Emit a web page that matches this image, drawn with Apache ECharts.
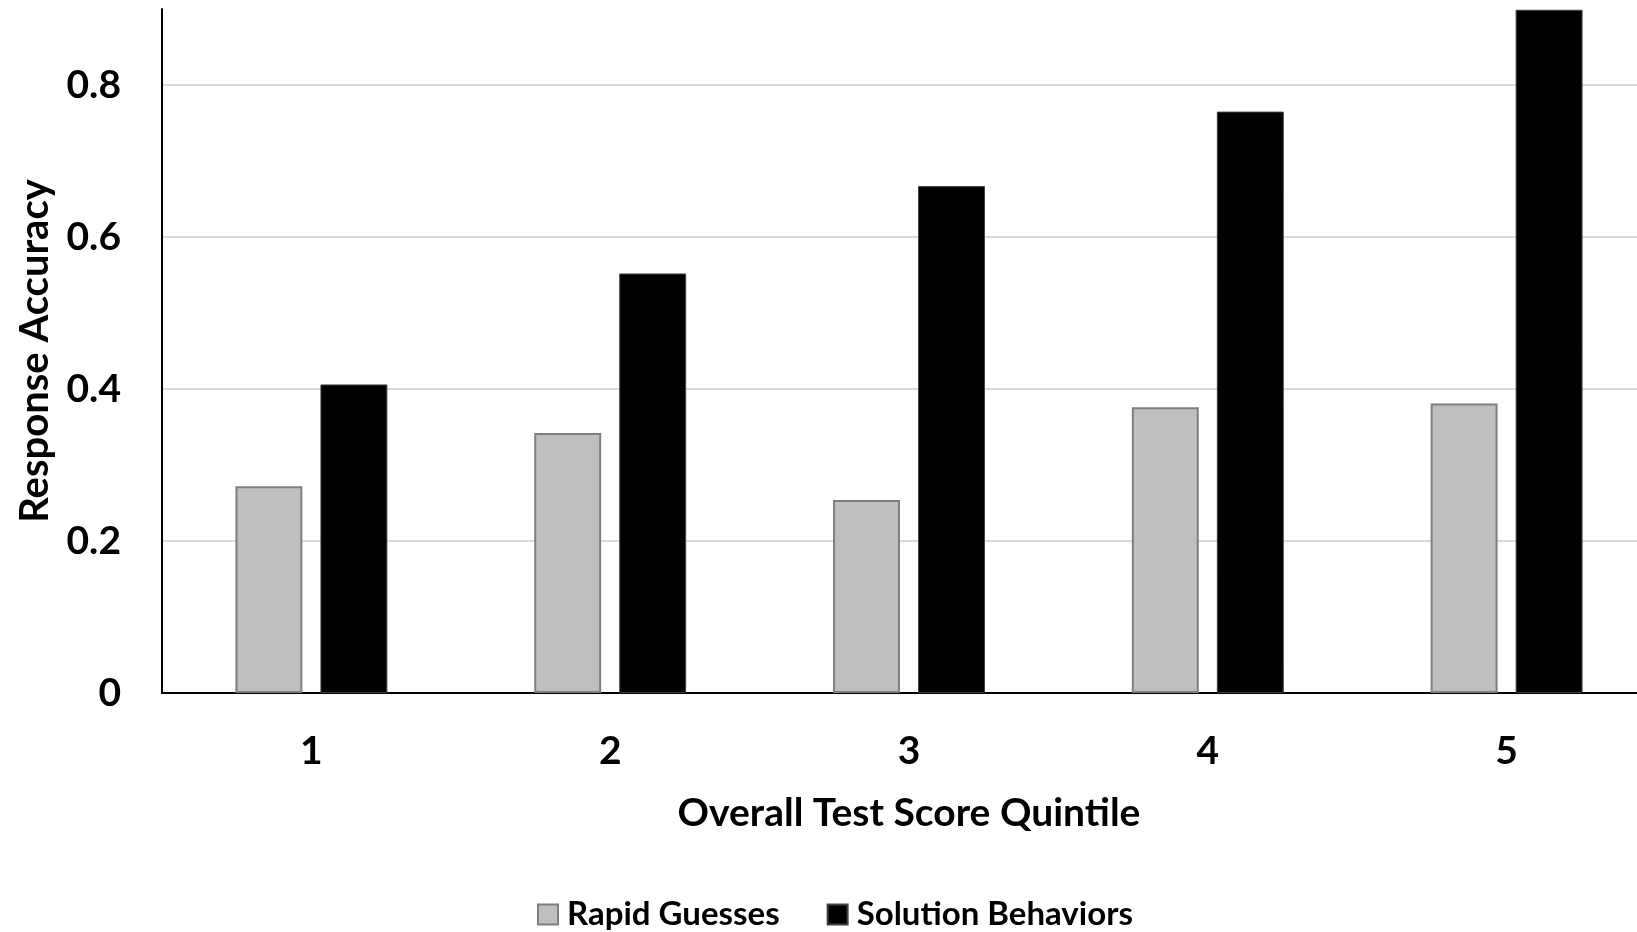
<!DOCTYPE html>
<html>
<head>
<meta charset="utf-8">
<script src="https://cdn.jsdelivr.net/npm/echarts@6/dist/echarts.min.js"></script>
<style>
html,body{margin:0;padding:0;background:#fff;overflow:hidden;width:1637px;height:932px;}
#chart{width:1660px;height:932px;}
</style>
</head>
<body>
<div id="chart"></div>
<script>
var categories = ['1', '2', '3', '4', '5'];
var rapidGuesses = [0.272, 0.342, 0.254, 0.376, 0.381];
var solutionBehaviors = [0.406, 0.552, 0.667, 0.765, 0.899];
var seriesNames = ['Rapid Guesses', 'Solution Behaviors'];
var xTitle = 'Overall Test Score Quintile';
var yTitle = 'Response Accuracy';

var FONT = 'Lato, "Open Sans", sans-serif';
var chart = echarts.init(document.getElementById('chart'), null, {renderer: 'canvas'});
chart.setOption({
  animation: false,
  backgroundColor: '#ffffff',
  grid: {left: 162, width: 1494, top: 9, height: 684, containLabel: false},
  legend: {
    left: 532, top: 893,
    icon: 'rect',
    itemWidth: 20, itemHeight: 20, itemGap: 47,
    textStyle: {fontFamily: FONT, fontWeight: 'bold', fontSize: 33, color: '#000', padding: [0, 0, 0, 4]},
    data: seriesNames
  },
  xAxis: {
    type: 'category',
    data: categories,
    name: xTitle,
    nameLocation: 'middle',
    nameGap: 101,
    nameTextStyle: {fontFamily: FONT, fontWeight: 'bold', fontSize: 39, color: '#000'},
    axisLine: {lineStyle: {color: '#000', width: 2}},
    axisTick: {show: false},
    axisLabel: {fontFamily: FONT, fontWeight: 'bold', fontSize: 39, color: '#000', margin: 39}
  },
  yAxis: {
    type: 'value',
    min: 0, max: 0.9, interval: 0.2,
    name: yTitle,
    nameLocation: 'middle',
    nameGap: 107,
    nameTextStyle: {fontFamily: FONT, fontWeight: 'bold', fontSize: 40, color: '#000'},
    axisLine: {show: true, lineStyle: {color: '#000', width: 2}},
    axisTick: {show: false},
    axisLabel: {
      fontFamily: FONT, fontWeight: 'bold', fontSize: 39, color: '#000', margin: 41,
      showMaxLabel: false,
      formatter: function (v) { return v === 0 ? '0' : v.toFixed(1); }
    },
    splitLine: {lineStyle: {color: ['#d9d9d9', '#d9d9d9', '#d9d9d9', '#d9d9d9', '#d9d9d9', 'rgba(0,0,0,0)'], width: 2}}
  },
  series: [
    {
      name: seriesNames[0], type: 'bar', data: rapidGuesses,
      barWidth: '22.4%', barGap: '27%',
      itemStyle: {color: '#bfbfbf', borderColor: '#7f7f7f', borderWidth: 2}
    },
    {
      name: seriesNames[1], type: 'bar', data: solutionBehaviors,
      barWidth: '22.4%', barGap: '27%',
      itemStyle: {color: '#000000', borderColor: '#404040', borderWidth: 1}
    }
  ]
});
</script>
</body>
</html>
